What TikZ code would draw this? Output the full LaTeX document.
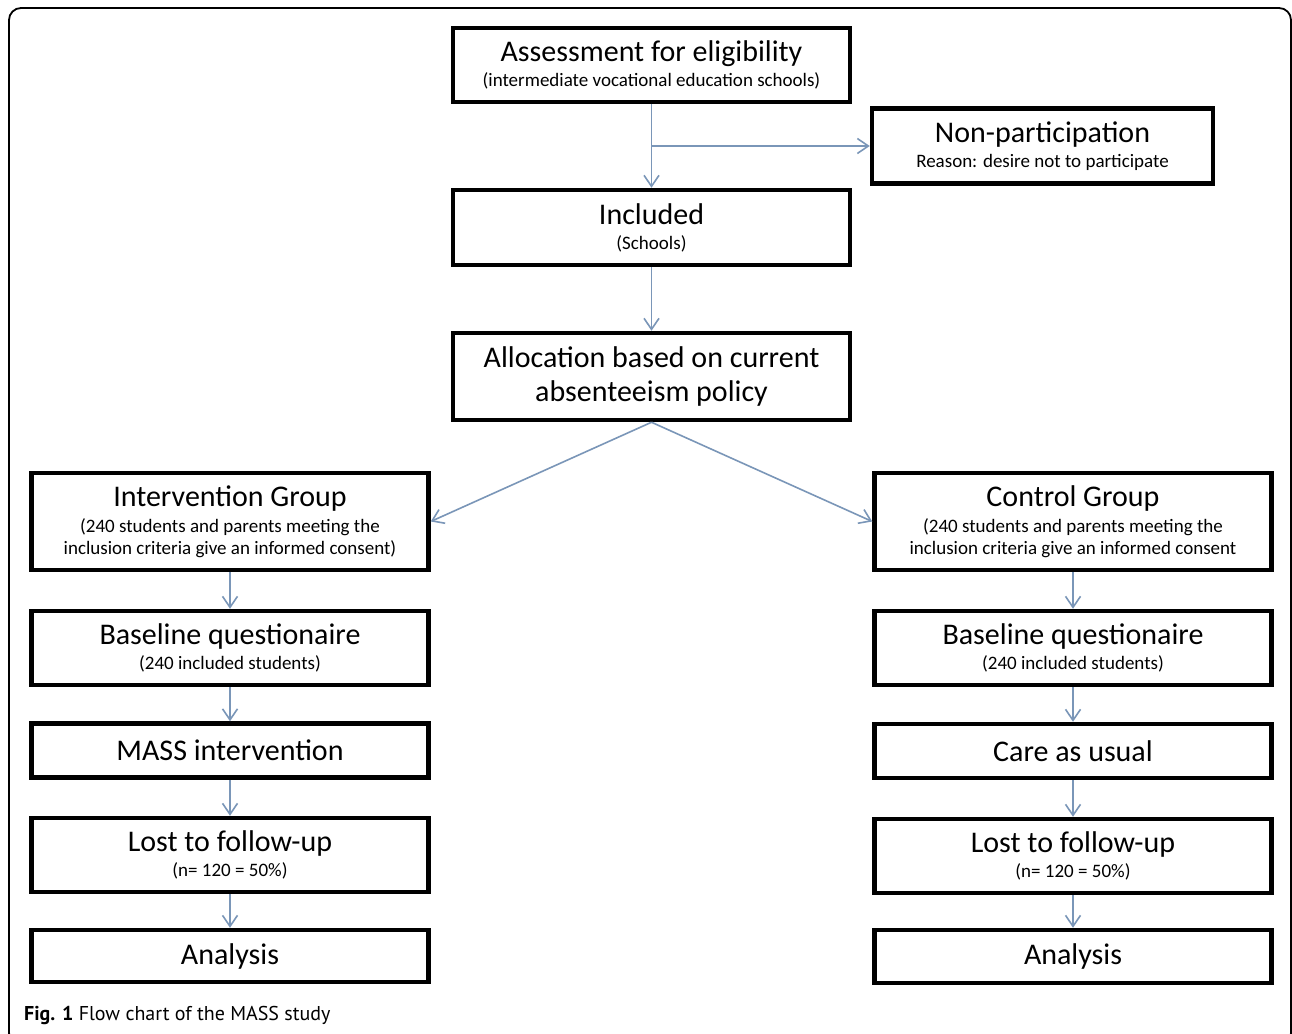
\documentclass[tikz,border=0pt]{standalone}
\usepackage{fontspec}
\setmainfont{Carlito}
\newfontfamily\captionfont{PT Sans}
\usetikzlibrary{arrows.meta}
\definecolor{flowblue}{RGB}{122,150,184}

\newcommand{\headtxt}[1]{{\fontsize{30}{34}\selectfont #1}}

\begin{document}
\begin{tikzpicture}[x=1pt, y=-1pt,
  box/.style={draw, line width=4.5pt, inner sep=0pt, align=center,
    font=\fontsize{19}{22}\selectfont},
  wide/.style={box, minimum width=397pt},
  flow/.style={draw=flowblue, line width=1.6pt,
    -{Straight Barb[length=11pt, width=15pt, line width=1.6pt]}}]
\useasboundingbox (0,0) rectangle (1292,1033);
\clip (0,0) rectangle (1292,1033);
\fill[white] (0,0) rectangle (1292,1033);
\draw[line width=1.8pt, rounded corners=12pt] (9,8) rectangle (1291,1045);

% middle column
\node[wide, minimum height=74pt] (assess) at (651.5,65)
  {\headtxt{Assessment for eligibility}\\[3pt](intermediate vocational education schools)};
\node[box, minimum width=341pt, minimum height=75pt] (nonpart) at (1042.5,146)
  {\headtxt{Non-participation}\\[3pt]Reason: desire not to participate};
\node[wide, minimum height=75pt] (incl) at (651.5,227.5)
  {\headtxt{Included}\\[3pt](Schools)};
\node[wide, minimum height=87pt, font=\fontsize{30}{34}\selectfont] (alloc) at (651.5,376.5)
  {Allocation based on current\\absenteeism policy};

% intervention side
\node[wide, minimum height=97pt] (interv) at (230,521.5)
  {\headtxt{Intervention Group}\\[4pt](240 students and parents meeting the\\inclusion criteria give an informed consent)};
\node[wide, minimum height=74pt] (baseI) at (230,648)
  {\headtxt{Baseline questionaire}\\[3pt](240 included students)};
\node[wide, minimum height=54pt] (massI) at (230,750.5) {\headtxt{MASS intervention}};
\node[wide, minimum height=74pt] (lostI) at (230,855)
  {\headtxt{Lost to follow-up}\\[3pt](n= 120 = 50\%)};
\node[wide, minimum height=52pt] (anaI) at (230,956) {\headtxt{Analysis}};

% control side
\node[wide, minimum height=97pt] (control) at (1073,521.5)
  {\headtxt{Control Group}\\[4pt](240 students and parents meeting the\\inclusion criteria give an informed consent};
\node[wide, minimum height=74pt] (baseC) at (1073,648)
  {\headtxt{Baseline questionaire}\\[3pt](240 included students)};
\node[wide, minimum height=54pt] (careC) at (1073,751) {\headtxt{Care as usual}};
\node[wide, minimum height=74pt] (lostC) at (1073,856)
  {\headtxt{Lost to follow-up}\\[3pt](n= 120 = 50\%)};
\node[wide, minimum height=53pt] (anaC) at (1073,956.5) {\headtxt{Analysis}};

% arrows
\coordinate (split) at (assess.south |- nonpart.west);
\draw[flow] (assess) -- (incl);
\draw[flow] (split) -- (nonpart.west);
\draw[flow] (incl) -- (alloc);
\draw[flow] (alloc.south) -- (interv.east);
\draw[flow] (alloc.south) -- (control.west);
\draw[flow] (interv) -- (baseI);
\draw[flow] (baseI) -- (massI);
\draw[flow] (massI) -- (lostI);
\draw[flow] (lostI) -- (anaI);
\draw[flow] (control) -- (baseC);
\draw[flow] (baseC) -- (careC);
\draw[flow] (careC) -- (lostC);
\draw[flow] (lostC) -- (anaC);

\node[anchor=base west, inner sep=0pt, font=\captionfont\fontsize{20}{24}\selectfont] (caption) at (24,1020)
  {\textbf{Fig. 1} Flow chart of the MASS study};
\end{tikzpicture}
\end{document}
